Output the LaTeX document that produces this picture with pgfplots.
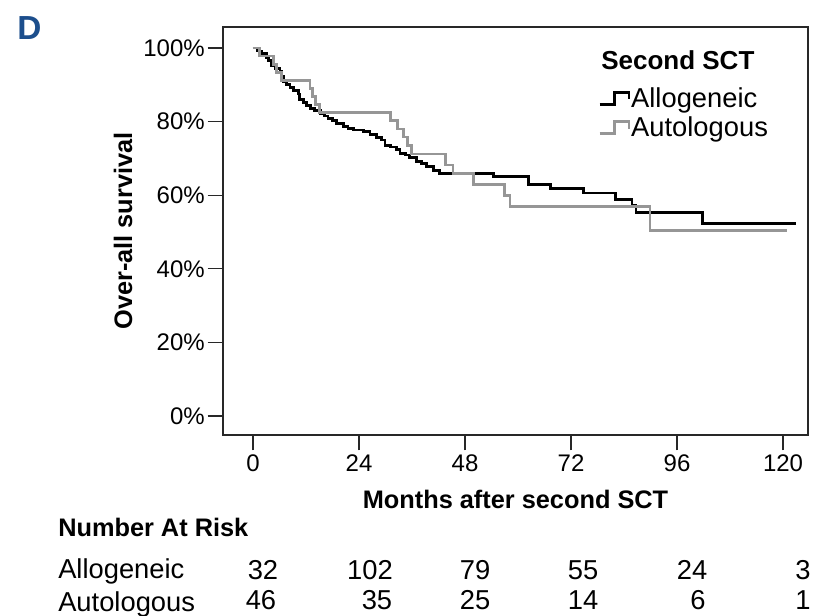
\documentclass[border=0pt]{standalone}
\usepackage{fontspec}
\setmainfont{Liberation Sans}
\usepackage{pgfplots}
\pgfplotsset{compat=1.18}
\definecolor{panelblue}{RGB}{28,78,140}
\definecolor{autogray}{RGB}{150,150,150}
\definecolor{axisgray}{RGB}{40,40,40}

\begin{document}
\begin{tikzpicture}
\useasboundingbox (-167.25pt,-135.75pt) rectangle (444.75pt,326.25pt);
\begin{axis}[
  at={(0pt,0pt)}, anchor=south west,
  scale only axis, width=438.75pt, height=306pt,
  xmin=-6.79, xmax=125.65, ymin=-5.16, ymax=105.7,
  axis line style={line width=0.9pt, axisgray},
  tick style={line width=0.9pt, axisgray},
  tick align=outside, xtick pos=bottom, ytick pos=left,
  major tick length=11.5pt,
  xtick={0,24,48,72,96,120}, xticklabels={0,24,48,72,96,120},
  ytick={0,20,40,60,80,100}, yticklabels={0\%,20\%,40\%,60\%,80\%,100\%},
  ticklabel style={font=\fontsize{18}{21}\selectfont},
  xticklabel style={inner sep=0.5pt, yshift=-2.5pt},
  yticklabel style={inner sep=2pt},
  xlabel={\textbf{Months after second SCT}},
  ylabel={\textbf{Over-all survival}},
  label style={font=\fontsize{19}{22}\selectfont},
  xlabel style={at={(axis description cs:0.5,-0.157)}, anchor=center},
  ylabel style={at={(axis description cs:-0.171,0.5)}, anchor=center},
  legend style={at={(0.641,0.855)}, anchor=north west, draw=none, fill=none,
    inner sep=0pt, font=\fontsize{20.5}{24}\selectfont, row sep=4.5pt,
    nodes={inner sep=0.6pt}},
  legend cell align=left,
  legend image code/.code={\draw[#1] (0pt,-4.5pt) -- (11pt,-4.5pt) -- (11pt,4.3pt) -- (22pt,4.3pt) -- (22pt,-0.75pt);},
  clip=false,
]
\addplot[const plot, black, line width=2.1pt] coordinates {
(0,100)(1,99.2)(2,98.4)(3,97.5)(3.5,96.7)(4.2,95.2)(5,94.4)(6.1,93.6)(6.5,92.2)(6.9,90.8)
(7.6,90.0)(8.4,89.3)(9.2,88.5)(10.3,87.5)(10.6,85.9)(11.4,85.1)(12.2,84.4)(13.1,83.6)(14.0,83.0)
(15.2,82.2)(16.1,81.5)(17.0,80.9)(18.0,80.2)(18.9,79.5)(20.4,78.6)(21.5,78.1)(22.7,77.7)(25.0,77.2)
(26.5,76.4)(28.0,75.6)(29.1,75.0)(29.9,73.6)(31.2,73.1)(32.5,72.4)(33.3,71.4)(34.5,70.9)(35.5,70.3)
(37.0,69.1)(38.2,68.6)(39.3,67.9)(40.8,66.8)(42.3,65.9)(54.4,65.0)(62.4,63.0)(67.4,61.9)(74.8,60.6)
(82.0,58.8)(85.8,57.3)(86.7,55.4)(101.7,52.4)(122.9,52.4)
};
\addlegendentry{Allogeneic}
\addplot[const plot, autogray, line width=2.1pt] coordinates {
(0,100)(1.5,97.8)(4.6,95.6)(5.4,93.4)(6.4,91.2)(12.9,89.0)(13.4,86.8)(14.2,84.6)(15.0,82.4)
(31.2,80.2)(32.8,78.0)(34.0,75.8)(35.0,73.6)(35.8,71.2)(43.5,68.2)(45.3,65.9)(49.9,63.0)
(57.0,60.0)(58.2,56.9)(89.9,50.5)(120.8,50.5)
};
\addlegendentry{Autologous}
\end{axis}
% panel letter and legend title
\node[anchor=base west, inner sep=0pt, text=panelblue, font=\fontsize{25}{28}\selectfont\bfseries] at (-154.5pt,296.5pt) {D};
\node[anchor=base west, inner sep=0pt, font=\fontsize{19.5}{23}\selectfont\bfseries] at (283.5pt,274.3pt) {Second SCT};
% number at risk table
\begin{scope}[every node/.style={inner sep=0pt, font=\fontsize{20.5}{24}\selectfont}]
\node[anchor=base west, font=\fontsize{19}{22}\selectfont\bfseries] at (-123.75pt,-76.5pt) {Number At Risk};
\node[anchor=base west] at (-123.75pt,-107.25pt) {Allogeneic};
\node[anchor=base west] at (-123.75pt,-132pt) {Autologous};
\node[anchor=base] at (30pt,-108.5pt) {32};
\node[anchor=base] at (110.25pt,-108.5pt) {102};
\node[anchor=base] at (189pt,-108.5pt) {79};
\node[anchor=base] at (270pt,-108.5pt) {55};
\node[anchor=base] at (351.75pt,-108.5pt) {24};
\node[anchor=base] at (435pt,-108.5pt) {3};
\node[anchor=base] at (28.5pt,-131pt) {46};
\node[anchor=base] at (115.5pt,-131pt) {35};
\node[anchor=base] at (189pt,-131pt) {25};
\node[anchor=base] at (270pt,-131pt) {14};
\node[anchor=base] at (356.25pt,-131pt) {6};
\node[anchor=base] at (435pt,-131pt) {1};
\end{scope}
\end{tikzpicture}
\end{document}
